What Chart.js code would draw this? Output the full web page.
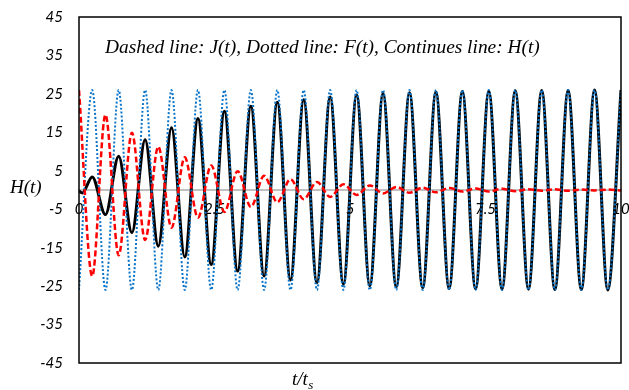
<!DOCTYPE html>
<html>
<head>
<meta charset="utf-8">
<script src="https://cdn.jsdelivr.net/npm/chart.js@4/dist/chart.umd.min.js"></script>
<style>
  html, body { margin: 0; padding: 0; background: #ffffff; }
  #wrap { width: 629px; height: 390px; }
</style>
</head>
<body>
<div id="wrap"><canvas id="c" width="629" height="390"></canvas></div>
<script>
// ---- data (values at the extrema of the oscillations) ----
const times = [0, 0.244, 0.488, 0.732, 0.976, 1.220, 1.463, 1.707, 1.951, 2.195,
  2.439, 2.683, 2.927, 3.171, 3.415, 3.659, 3.902, 4.146, 4.390, 4.634,
  4.878, 5.122, 5.366, 5.610, 5.854, 6.098, 6.341, 6.585, 6.829, 7.073,
  7.317, 7.561, 7.805, 8.049, 8.293, 8.537, 8.780, 9.024, 9.268, 9.512,
  9.756, 10.000];

// Dotted line F(t)
const fValues = [-26, 26, -26, 26, -26, 26, -26, 26, -26, 26,
  -26, 26, -26, 26, -26, 26, -26, 26, -26, 26,
  -26, 26, -26, 26, -26, 26, -26, 26, -26, 26,
  -26, 26, -26, 26, -26, 26, -26, 26, -26, 26,
  -26, 26];

// Dashed line J(t)
const jValues = [26, -22.4, 19.6, -17.0, 14.9, -13.0, 11.3, -9.8, 8.5, -7.2,
  6.4, -5.7, 4.9, -4.4, 3.7, -3.2, 2.8, -2.4, 2.1, -1.8,
  1.5, -1.3, 1.2, -0.9, 0.8, -0.7, 0.6, -0.6, 0.5, -0.4,
  0.4, -0.4, 0.3, -0.3, 0.2, -0.2, 0.2, -0.2, 0.1, -0.1,
  0.1, -0.1];

// Continuous line H(t)
const hValues = [-0.3, 3.4, -6.4, 8.8, -11.1, 13.1, -14.6, 16.2, -17.4, 18.6,
  -19.4, 20.5, -21.1, 21.8, -22.4, 22.8, -23.4, 23.5, -24.1, 24.2,
  -24.5, 24.7, -24.9, 25.1, -25.2, 25.3, -25.4, 25.5, -25.6, 25.6,
  -25.7, 25.7, -25.8, 25.8, -25.8, 25.9, -25.9, 25.9, -25.9, 26,
  -26, 26];
// small dip of H(t) just after t = 0
const hDipTime = 0.06;
const hDipValue = -0.8;

const yTickValues = [45, 35, 25, 15, 5, -5, -15, -25, -35, -45];
const xTickValues = [0, 2.5, 5, 7.5, 10];

const noteText = 'Dashed line: J(t), Dotted line: F(t), Continues line: H(t)';
const yTitle = 'H(t)';
const xTitleMain = 't/t';
const xTitleSub = 's';

// ---- build datasets ----
const toPoints = (xs, ys) => xs.map((x, i) => ({ x: x, y: ys[i] }));
const hPoints = toPoints(times, hValues);
hPoints.splice(1, 0, { x: hDipTime, y: hDipValue });

const framePlugin = {
  id: 'frameAndTexts',
  afterDraw(chart) {
    const ctx = chart.ctx;
    const a = chart.chartArea;
    ctx.save();
    // plot frame
    ctx.strokeStyle = '#000000';
    ctx.lineWidth = 1.5;
    ctx.strokeRect(a.left, a.top, a.right - a.left, a.bottom - a.top);

    // note text inside the plot
    ctx.fillStyle = '#000000';
    ctx.textBaseline = 'alphabetic';
    ctx.textAlign = 'left';
    let size = 18;
    ctx.font = 'italic ' + size + 'px "Liberation Serif"';
    const w = ctx.measureText(noteText).width;
    size = size * 435 / w;
    ctx.font = 'italic ' + size.toFixed(2) + 'px "Liberation Serif"';
    ctx.fillText(noteText, 105, 53);

    // y-axis title
    ctx.font = 'italic 19px "Liberation Serif"';
    ctx.fillText(yTitle, 10, 193);

    // x-axis title with subscript
    ctx.font = 'italic 19px "Liberation Serif"';
    const mw = ctx.measureText(xTitleMain).width;
    const x0 = 292;
    ctx.fillText(xTitleMain, x0, 385);
    ctx.font = 'italic 13px "Liberation Serif"';
    ctx.fillText(xTitleSub, x0 + mw + 0.5, 389);
    ctx.restore();
  }
};

const tickFont = { family: 'Lato', style: 'italic', size: 15 };
const zeroPad = (s) => { s.paddingLeft = 0; s.paddingRight = 0; s.paddingTop = 0; s.paddingBottom = 0; };

new Chart(document.getElementById('c'), {
  type: 'line',
  data: {
    datasets: [
      {
        label: 'J(t)',
        data: toPoints(times, jValues),
        borderColor: '#ff0000',
        borderWidth: 2.5,
        borderDash: [6, 3],
        pointRadius: 0,
        fill: false,
        cubicInterpolationMode: 'monotone'
      },
      {
        label: 'F(t)',
        data: toPoints(times, fValues),
        borderColor: '#0a74c8',
        borderWidth: 2,
        borderDash: [2, 2],
        pointRadius: 0,
        fill: false,
        cubicInterpolationMode: 'monotone'
      },
      {
        label: 'H(t)',
        data: hPoints,
        borderColor: '#000000',
        borderWidth: 3,
        pointRadius: 0,
        fill: false,
        cubicInterpolationMode: 'monotone'
      }
    ]
  },
  options: {
    responsive: false,
    animation: false,
    devicePixelRatio: 1,
    layout: { padding: { top: 17, right: 8, bottom: 27, left: 0 } },
    plugins: {
      legend: { display: false },
      tooltip: { enabled: false },
      title: { display: false }
    },
    scales: {
      x: {
        type: 'linear',
        min: 0,
        max: 10,
        position: { y: 0 },
        afterBuildTicks: (s) => { s.ticks = xTickValues.map(v => ({ value: v })); },
        afterFit: zeroPad,
        ticks: {
          font: tickFont,
          color: '#000000',
          padding: 10,
          maxRotation: 0,
          autoSkip: false,
          callback: (v) => String(v)
        },
        grid: { display: false, drawTicks: false },
        border: { display: true, color: '#c0c0c0', width: 2 }
      },
      y: {
        type: 'linear',
        min: -45,
        max: 45,
        afterBuildTicks: (s) => { s.ticks = yTickValues.map(v => ({ value: v })); },
        afterFit: (s) => { s.width = 79; zeroPad(s); },
        ticks: {
          font: tickFont,
          color: '#000000',
          padding: 16,
          autoSkip: false
        },
        grid: { display: false, drawTicks: false },
        border: { display: false }
      }
    }
  },
  plugins: [framePlugin]
});
</script>
</body>
</html>
